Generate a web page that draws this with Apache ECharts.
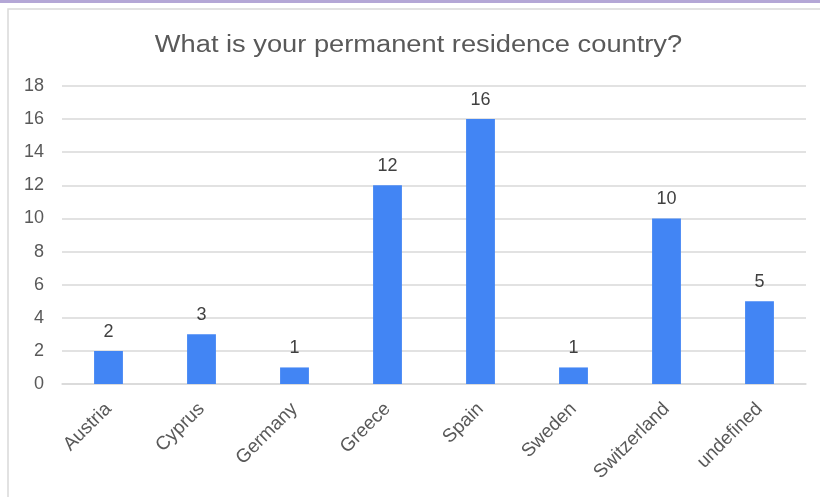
<!DOCTYPE html>
<html><head><meta charset="utf-8">
<script src="https://cdn.jsdelivr.net/npm/echarts@6/dist/echarts.min.js"></script>
<style>html,body{margin:0;padding:0;background:#fff}#c{width:820px;height:497px}</style>
</head><body><div id="c"></div>
<script>
const titleText = 'What is your permanent residence country?';
const categories = ['Austria','Cyprus','Germany','Greece','Spain','Sweden','Switzerland','undefined'];
const values = [2,3,1,12,16,1,10,5];
const yTicks = {min:0, max:18, interval:2};

const chart = echarts.init(document.getElementById('c'), null, {renderer:'canvas'});
chart.setOption({
  backgroundColor:'#ffffff',
  animation:false,
  graphic:[
    {type:'rect', shape:{x:0,y:0,width:820,height:3}, style:{fill:'#b4a7d6'}, silent:true},
    {type:'rect', shape:{x:8,y:9,width:830,height:500}, style:{fill:null, stroke:'#d9d9d9', lineWidth:1.5}, silent:true},
    {type:'text', x:418.5, y:46, scaleX:1.16, silent:true,
      style:{text:titleText, textAlign:'center', textVerticalAlign:'middle',
        font:'normal 23.5px "Liberation Sans"', fill:'#595959'}}
  ],
  grid:{left:62, right:14, top:86, bottom:113, containLabel:false},
  xAxis:{type:'category', data:categories,
    axisLine:{show:true, lineStyle:{color:'#d9d9d9', width:1.5}},
    axisTick:{show:false},
    axisLabel:{rotate:45, margin:22, color:'#595959', fontFamily:'Liberation Sans', fontSize:19, interval:0}},
  yAxis:{type:'value', min:yTicks.min, max:yTicks.max, interval:yTicks.interval,
    axisLine:{show:false}, axisTick:{show:false},
    splitLine:{lineStyle:{color:'#d9d9d9', width:1.5}},
    axisLabel:{color:'#595959', fontFamily:'Liberation Sans', fontSize:18, margin:18, align:'right'}},
  series:[{type:'bar', data:values, barWidth:'31%',
    itemStyle:{color:'#4285f4'},
    label:{show:true, position:'top', distance:10, color:'#404040', fontFamily:'Liberation Sans', fontSize:18}}]
});
</script></body></html>
